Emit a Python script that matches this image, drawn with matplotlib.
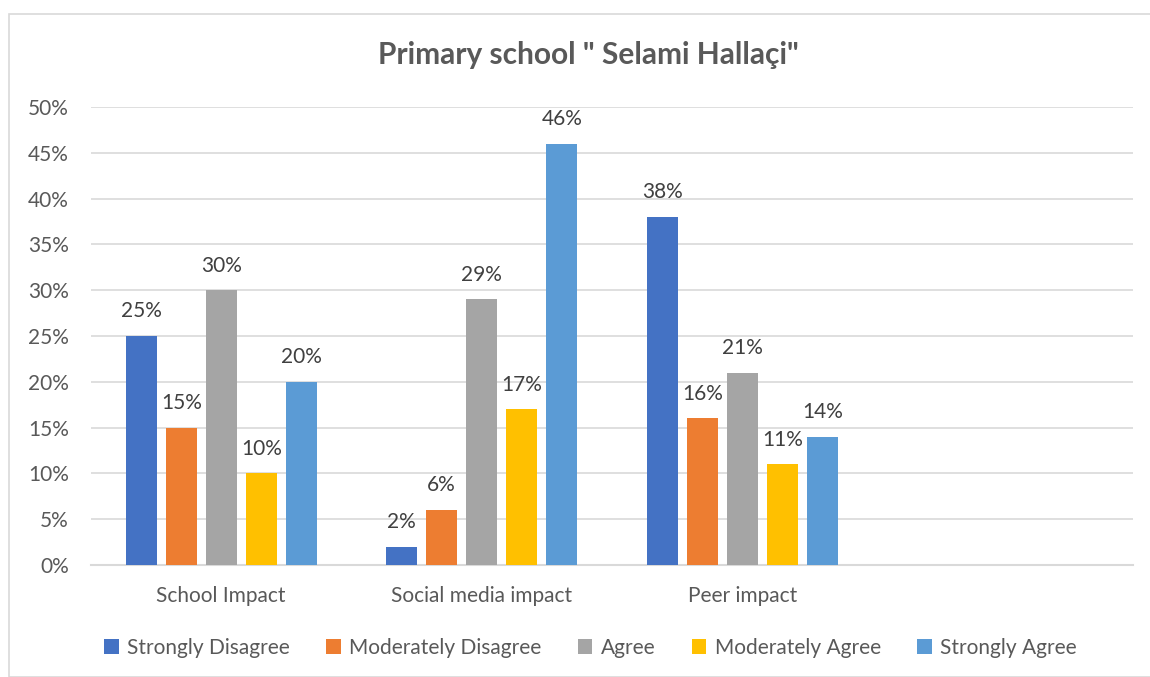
import numpy as np
import matplotlib.pyplot as plt
from matplotlib.patches import Rectangle

categories = ["School Impact", "Social media impact", "Peer impact", ""]
series_names = ["Strongly Disagree", "Moderately Disagree", "Agree",
                "Moderately Agree", "Strongly Agree"]
strongly_disagree = [25, 2, 38]
moderately_disagree = [15, 6, 16]
agree = [30, 29, 21]
moderately_agree = [10, 17, 11]
strongly_agree = [20, 46, 14]
series_values = [strongly_disagree, moderately_disagree, agree,
                 moderately_agree, strongly_agree]
yticks = [0, 5, 10, 15, 20, 25, 30, 35, 40, 45, 50]

colors = ['#4472C4', '#ED7D31', '#A5A5A5', '#FFC000', '#5B9BD5']
text_col = '#595959'

plt.rcParams['font.family'] = ['Lato', 'DejaVu Sans']

fig = plt.figure(figsize=(11.5, 6.77), dpi=100)
fig.patches.append(Rectangle((9/1150, 0), 1.2, 1 - 14/677, transform=fig.transFigure,
                             fill=False, edgecolor='#d9d9d9', linewidth=1.2))
ax = fig.add_axes([91/1150, 1 - 565/677, (1133 - 91)/1150, (565 - 107)/677])

width = 31/260.5
step = 40/260.5
x = np.arange(len(categories))
for i, (name, vals) in enumerate(zip(series_names, series_values)):
    pos = x[:len(vals)] + (i - 2) * step
    bars = ax.bar(pos, np.array(vals) / 100, width=width, color=colors[i], label=name, zorder=3)
    for b, v in zip(bars, vals):
        ax.text(b.get_x() + b.get_width()/2, b.get_height() + 0.016, f"{v}%",
                ha='center', va='bottom', fontsize=15, color='#404040')

ax.set_xlim(-0.5, len(categories) - 0.5)
ax.set_ylim(0, 0.5)
ax.set_yticks([t/100 for t in yticks])
ax.set_yticklabels([f"{t}%" for t in yticks])
ax.set_xticks(x)
ax.set_xticklabels(categories)
ax.tick_params(axis='both', length=0, labelsize=15, colors=text_col)
ax.tick_params(axis='y', pad=16)
ax.tick_params(axis='x', pad=15)
ax.grid(axis='y', color='#d9d9d9', linewidth=1.2, zorder=0)
for s in ['top', 'right', 'left']:
    ax.spines[s].set_visible(False)
ax.spines['bottom'].set_color('#d9d9d9')
ax.spines['bottom'].set_linewidth(1.5)

fig.text(0.512, 1 - 55/677, 'Primary school " Selami Hallaçi"', ha='center', va='center',
         fontsize=21.5, fontweight='bold', color=text_col)

leg = fig.legend(loc='center', bbox_to_anchor=(0.5135, 1 - 648/677), ncol=5, frameon=False,
                 fontsize=15, handlelength=0.7, handleheight=0.7, handletextpad=0.4,
                 columnspacing=1.75)
for t in leg.get_texts():
    t.set_color(text_col)

plt.savefig('out.png', dpi=100)
